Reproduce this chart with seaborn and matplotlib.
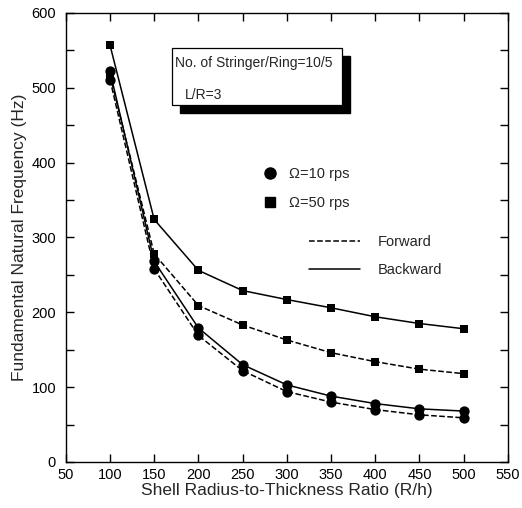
import matplotlib
matplotlib.use("Agg")
import matplotlib.pyplot as plt
import seaborn as sns
import pandas as pd
from matplotlib.lines import Line2D
from matplotlib.patches import Rectangle
from matplotlib.ticker import MultipleLocator

ratio = [100, 150, 200, 250, 300, 350, 400, 450, 500]
w10_forward = [511, 258, 169, 122, 94, 80, 70, 63, 59]
w10_backward = [522, 268, 179, 130, 103, 88, 78, 71, 68]
w50_forward = [517, 278, 209, 183, 163, 146, 134, 124, 118]
w50_backward = [557, 324, 256, 229, 217, 206, 194, 185, 178]

sns.set_theme(style="ticks")
plt.rcParams['font.family'] = ['Liberation Sans', 'DejaVu Sans']

rows = []
for speed, direction, vals in [("10", "Forward", w10_forward), ("10", "Backward", w10_backward),
                               ("50", "Forward", w50_forward), ("50", "Backward", w50_backward)]:
    for x, v in zip(ratio, vals):
        rows.append({"ratio": x, "freq": v, "speed": speed, "dir": direction,
                     "series": speed + direction})
df = pd.DataFrame(rows)

fig = plt.figure(figsize=(5.22, 5.08), dpi=100)
ax = fig.add_axes([0.126, 0.0906, 0.847, 0.884])

for name, grp in df.groupby("series"):
    ls = "--" if grp["dir"].iloc[0] == "Forward" else "-"
    sns.lineplot(data=grp, x="ratio", y="freq", ax=ax, color="black", lw=1.1,
                 linestyle=ls, legend=False)
    mk = "o" if grp["speed"].iloc[0] == "10" else "s"
    ms = 55 if mk == "o" else 30
    sns.scatterplot(data=grp, x="ratio", y="freq", ax=ax, color="black", marker=mk,
                    s=ms, edgecolor="black", linewidth=0, legend=False, zorder=3)

ax.set_xlim(50, 550)
ax.set_ylim(0, 600)
ax.xaxis.set_major_locator(MultipleLocator(50))
ax.yaxis.set_major_locator(MultipleLocator(100))
ax.yaxis.set_minor_locator(MultipleLocator(50))
ax.tick_params(which="both", direction="in", top=True, right=True, colors="black",
               labelsize=10.5, width=1.0)
ax.tick_params(axis="x", pad=4)
ax.tick_params(axis="y", pad=7)
ax.tick_params(which="major", length=6)
ax.tick_params(which="minor", length=6)
for sp in ax.spines.values():
    sp.set_color("black")
    sp.set_linewidth(1.0)
ax.set_xlabel("Shell Radius-to-Thickness Ratio (R/h)", fontsize=12.5, labelpad=1)
ax.set_ylabel("Fundamental Natural Frequency (Hz)", fontsize=12.5, labelpad=3)

# annotation box with shadow
shadow = Rectangle((0.258, 0.777), 0.385, 0.126, transform=ax.transAxes,
                   facecolor="black", edgecolor="black", zorder=4)
box = Rectangle((0.24, 0.795), 0.385, 0.126, transform=ax.transAxes,
                facecolor="white", edgecolor="black", lw=0.9, zorder=5)
ax.add_patch(shadow)
ax.add_patch(box)
ax.text(0.2475, 0.888, "No. of Stringer/Ring=10/5", transform=ax.transAxes,
        fontsize=10, va="center", ha="left", zorder=6)
ax.text(0.269, 0.817, "L/R=3", transform=ax.transAxes,
        fontsize=10, va="center", ha="left", zorder=6)

h1 = [Line2D([], [], marker="o", color="black", ls="none", markersize=8),
      Line2D([], [], marker="s", color="black", ls="none", markersize=6.5)]
leg1 = ax.legend(h1, ["Ω=10 rps", "Ω=50 rps"], loc="upper left",
                 bbox_to_anchor=(0.415, 0.685), frameon=False, fontsize=10.5,
                 handlelength=1.0, handletextpad=0.8, labelspacing=1.0)
ax.add_artist(leg1)
h2 = [Line2D([], [], color="black", ls="--", lw=1.1),
      Line2D([], [], color="black", ls="-", lw=1.1)]
ax.legend(h2, ["Forward", "Backward"], loc="upper left",
          bbox_to_anchor=(0.52, 0.535), frameon=False, fontsize=10.5,
          handlelength=3.5, handletextpad=1.2, labelspacing=1.0)

fig.savefig("out.png", dpi=100)
